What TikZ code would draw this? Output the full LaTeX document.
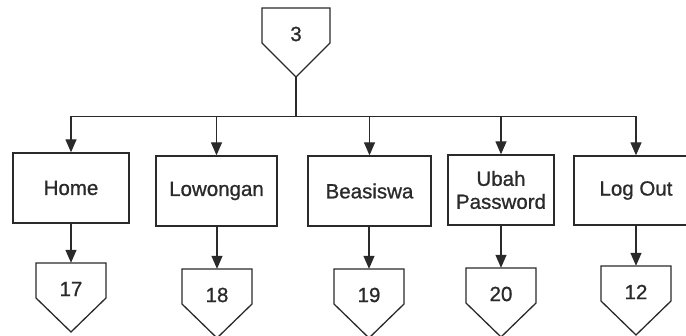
\documentclass[tikz,border=0pt]{standalone}
\usepackage{fontspec}
\setmainfont{Liberation Sans}
\newfontfamily\lblfont{Liberation Sans}[FakeBold=0.9]
\usetikzlibrary{arrows.meta}
\definecolor{ink}{HTML}{2A2A2A}
\tikzset{
  x=1pt, y=-1pt,
  shp/.style={draw=ink, line width=1.3pt, line join=miter},
  box/.style={shp, rectangle, inner sep=0pt, minimum height=70pt, align=center,
    font=\lblfont\fontsize{20.5}{23}\selectfont, text=ink},
  txt/.style={inner sep=0pt, font=\lblfont\fontsize{20.5}{23}\selectfont, text=ink},
  link/.style={draw=ink, line width=1.3pt, -{Triangle[width=11pt,length=13pt]}},
  wire/.style={draw=ink, line width=1.3pt},
}
% off-page connector: name, centre x, top y, width, label
\newcommand\offpage[5]{%
  \draw[shp] (#2-#4/2,#3) -- (#2+#4/2,#3) -- (#2+#4/2,#3+35) -- (#2,#3+69)
    -- (#2-#4/2,#3+35) -- cycle;
  \node[inner sep=0pt, minimum width=#4pt, minimum height=35pt] (#1) at (#2,#3+17.5) {};
  \node[txt] (#1-t) at (#2,#3+26) {#5};
}
\begin{document}
\begin{tikzpicture}
\useasboundingbox (0,0) rectangle (686,336);

% incoming connector
\offpage{c3}{296}{8}{68}{3}
\coordinate (tip) at (296,77);
\coordinate (bus) at (296,116.5);

% menu boxes
\node[box, minimum width=116pt] (home) at (71,188) {Home};
\node[box, minimum width=121pt] (low)  at (216.5,191) {Lowongan};
\node[box, minimum width=123pt] (bea)  at (369.5,191) {Beasiswa};
\node[box, minimum width=106pt] (pwd)  at (501,190) {Ubah\\Password};
\node[box, minimum width=124pt, minimum height=69pt] (out) at (636,190.5) {Log Out};

% distribution bus
\draw[wire] (tip) -- (bus);
\draw[wire] (home.north |- bus) -- (out.north |- bus);
\foreach \n in {home,low,bea,pwd,out}
  \draw[link] (\n.north |- bus) -- (\n.north);

% outgoing connectors
\offpage{c17}{71}{263}{70}{17}
\offpage{c18}{217}{269}{70}{18}
\offpage{c19}{369}{269}{70}{19}
\offpage{c20}{501}{268}{70}{20}
\offpage{c12}{636}{266}{70}{12}

\draw[link] (home.south) -- (c17.north);
\draw[link] (low.south -| c18.north) -- (c18.north);
\draw[link] (bea.south -| c19.north) -- (c19.north);
\draw[link] (pwd.south) -- (c20.north);
\draw[link] (out.south) -- (c12.north);
\end{tikzpicture}
\end{document}
